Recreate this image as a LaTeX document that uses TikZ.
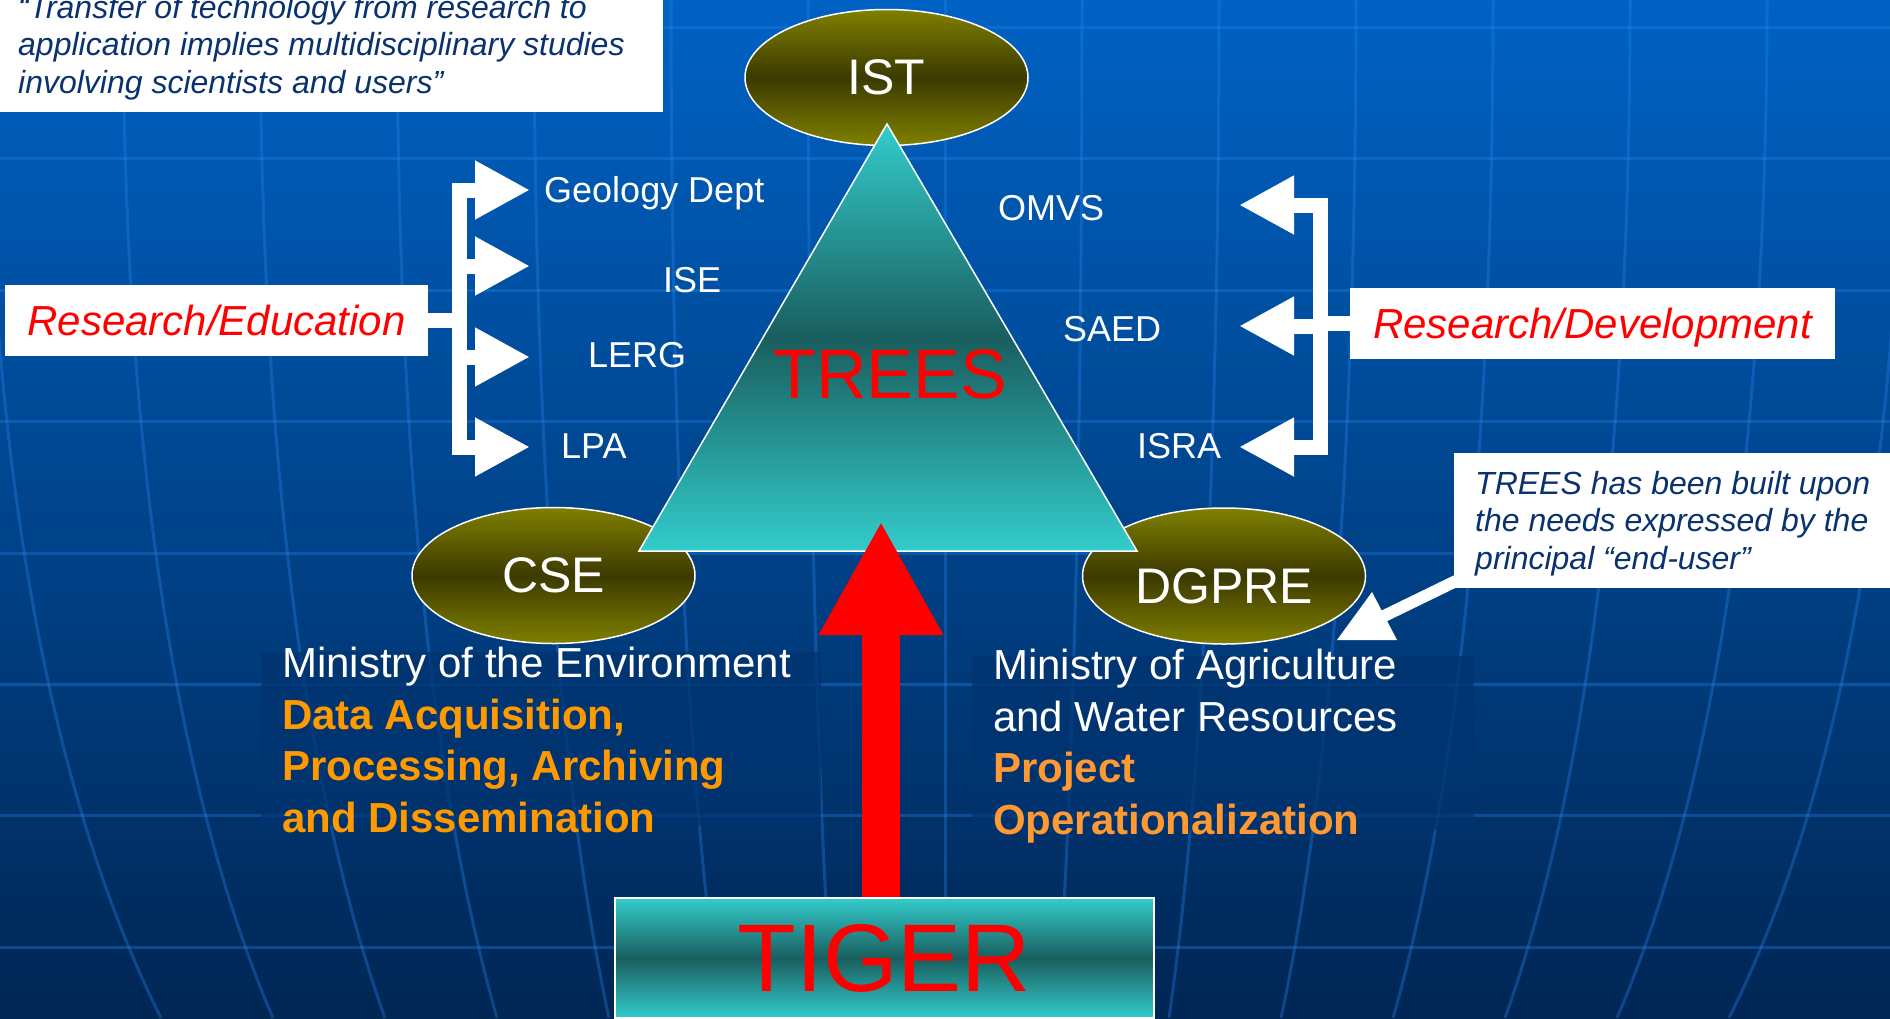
\documentclass[tikz,border=0pt]{standalone}
\usepackage{fontspec}
\setmainfont{Liberation Sans}
\usetikzlibrary{shapes.geometric,arrows.meta}

\definecolor{bgtop}{RGB}{0,98,196}
\definecolor{bgbot}{RGB}{0,38,84}
\definecolor{gridc}{RGB}{40,130,235}
\definecolor{olivec}{RGB}{128,128,0}
\definecolor{olived}{RGB}{60,58,0}
\definecolor{cyanc}{RGB}{51,204,204}
\definecolor{teald}{RGB}{26,94,94}
\definecolor{navyt}{RGB}{10,50,110}
\definecolor{orangea}{RGB}{255,153,0}
\definecolor{orangeb}{RGB}{255,153,51}
\definecolor{blockc}{RGB}{0,52,112}

\begin{document}
\begin{tikzpicture}[x=1pt, y=-1pt,
  >={Triangle[length=55pt,width=55pt]},
  grid/.style = {gridc, line width=3pt, opacity=0.35},
  org/.style = {draw=white, line width=1.5pt, ellipse, minimum width=283pt, minimum height=136pt, inner sep=0pt,
                top color=olivec, bottom color=olivec, middle color=olived, text=white, font=\fontsize{50}{60}\selectfont},
  lbl/.style = {anchor=base west, inner sep=0pt, text=white, font=\fontsize{36}{40}\selectfont},
  resbox/.style = {fill=white, text=red, minimum height=71pt, inner sep=0pt, text height=30pt, text depth=0pt,
                   font=\fontsize{42}{48}\selectfont\itshape},
  notetext/.style = {anchor=base west, align=left, inner sep=0pt, text=navyt, font=\fontsize{32}{37.5}\selectfont\itshape},
  block/.style = {blockc, opacity=0.75},
  blocktext/.style = {anchor=base west, align=left, inner sep=0pt, text=white, font=\fontsize{42}{51.5}\selectfont},
  bracket/.style = {white, line width=15pt},
  tealbox/.style = {draw=white, line width=1.5pt, top color=cyanc, bottom color=cyanc, middle color=teald}]

\useasboundingbox (0,0) rectangle (1890,1018);
\clip (0,0) rectangle (1890,1018);
\shade[top color=bgtop, bottom color=bgbot] (0,0) rectangle (1890,1018);
\foreach \y in {27,158,290,421,553,684,815,947}
  \draw[grid] (0,\y) -- (1890,\y);
\foreach \k in {-7,...,7}
  \draw[grid] ({945+137*\k},0) .. controls ({945+137*\k},550) and ({945+124*\k},850) .. ({945+112*\k},1018);

\fill[block] (261,652) rectangle (821,826);
\fill[block] (972,656) rectangle (1474,830);

\node[org] (ist) at (886.5,77.5) {IST};
\node[org] (cse) at (553.5,575.5) {CSE};
\node[org, text height=56pt] (dgpre) at (1224,576) {DGPRE};

\shade[tealbox] (887,124) -- (1137,551) -- (639,551) -- cycle;
\node[text=red, font=\fontsize{70}{80}\selectfont] (trees) at (890,374) {TREES};

\node[tealbox, minimum width=539pt, minimum height=120pt, text=red, font=\fontsize{96}{100}\selectfont] (tiger) at (884.5,958) {TIGER};
\coordinate (arrowtip) at (881,521);
\draw[red, line width=38pt, -{Triangle[length=114pt,width=116pt]}] (arrowtip |- tiger.north) -- (arrowtip);

\node[resbox, minimum width=423pt] (reseducation) at (216.5,320.5) {Research/Education};
\node[resbox, minimum width=485pt] (resdevelop) at (1592.5,323.5) {Research/Development};
\coordinate (lbar) at (459,320);
\coordinate (rbar) at (1320,324);
\foreach \n/\y in {la/190, lb/266, lc/357, ld/447}
  \coordinate (\n) at (530,\y);
\foreach \n/\y in {ra/205, rb/326, rc/447}
  \coordinate (\n) at (1239,\y);
\draw[bracket] (reseducation.east) -- (reseducation.east -| lbar);
\draw[bracket, <->] (la) -- (la -| lbar) -- (ld -| lbar) -- (ld);
\draw[bracket, ->] (lbar |- lb) -- (lb);
\draw[bracket, ->] (lbar |- lc) -- (lc);
\draw[bracket] (resdevelop.west) -- (resdevelop.west -| rbar);
\draw[bracket, <->] (ra) -- (ra -| rbar) -- (rc -| rbar) -- (rc);
\draw[bracket, ->] (rbar |- rb) -- (rb);

\node[lbl] (geology) at (544,202) {Geology Dept};
\node[lbl] (ise) at (663,292) {ISE};
\node[lbl] (lerg) at (588,367) {LERG};
\node[lbl] (lpa) at (561,458) {LPA};
\node[lbl] (omvs) at (998,220) {OMVS};
\node[lbl] (saed) at (1063,341) {SAED};
\node[lbl] (isra) at (1137,458) {ISRA};

\fill[white] (0,0) rectangle (663,112);
\node[notetext] (quote) at (18,93) {“Transfer of technology from research to\\application implies multidisciplinary studies\\involving scientists and users”};

\coordinate (ntail) at (1458,580);
\coordinate (nhead) at (1384,616);
\draw[white, line width=12pt] (ntail) -- (nhead);
\fill[white] (1372,592) -- (1337,640) -- (1397,640) -- cycle;
\fill[white] (1454,453) rectangle (1890,588);
\node[notetext] (note) at (1475,569) {TREES has been built upon\\the needs expressed by the\\principal “end-user”};

\node[blocktext] (envtext) at (282,832) {Ministry of the Environment\\
  \textcolor{orangea}{\bfseries Data Acquisition,}\\
  \textcolor{orangea}{\bfseries Processing, Archiving}\\
  \textcolor{orangea}{\bfseries and Dissemination}};
\node[blocktext] (agritext) at (993,834) {Ministry of Agriculture\\and Water Resources\\
  \textcolor{orangeb}{\bfseries Project}\\
  \textcolor{orangeb}{\bfseries Operationalization}};
\end{tikzpicture}
\end{document}
